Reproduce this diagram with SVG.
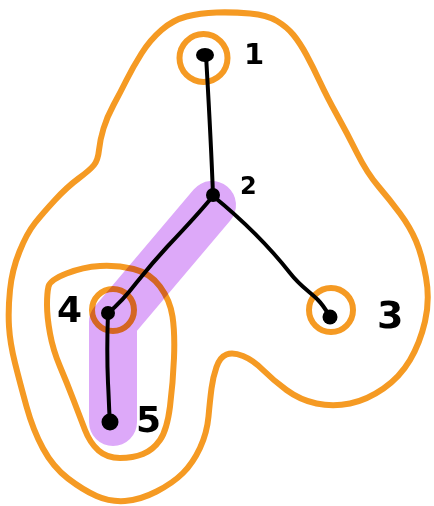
<svg xmlns="http://www.w3.org/2000/svg" width="434" height="506" viewBox="0 0 434 506">
  <style>
    .ring { fill: none; stroke: #F59A23; stroke-width: 6; stroke-linecap: round; stroke-linejoin: round; mix-blend-mode: multiply; }
    .edge { fill: none; stroke: #000; stroke-width: 4; stroke-linecap: round; stroke-linejoin: round; }
    .dot { fill: #000; }
    .lbl { font-family: "DejaVu Sans", sans-serif; font-weight: bold; fill: #000; }
    .path-hl { fill: none; stroke: #DDA9F9; stroke-width: 48; stroke-linecap: round; stroke-linejoin: round; }
  </style>
  <rect width="434" height="506" fill="#fff"/>

  <!-- highlighted path 2-4-5 -->
  <path class="path-hl" d="M212,205 L113,322 L113,422"/>

  <!-- outer cluster -->
  <path class="ring" d="M186.5,16.5 Q200,13 216.5,12.5 Q233,12 250,13.5 Q267,15 277,21 Q287,27 293.5,35 Q300,43 306.5,55 Q313,67 320,82 Q327,97 337,115 Q347,133 357,153 Q367,173 378.5,186.5 Q390,200 400,213.5 Q410,227 416,241 Q422,255 426,277.5 Q430,300 425,321.5 Q420,343 410,360 Q400,377 383.5,388.5 Q367,400 350,403.5 Q333,407 316.5,403.5 Q300,400 286.5,390 Q273,380 263,370 Q253,360 243,356 Q233,352 226.5,354.5 Q220,357 216.5,367 Q213,377 211.5,388.5 Q210,400 208.5,416.5 Q207,433 200,448 Q193,463 183,473 Q173,483 156.5,491.5 Q140,500 125,501 Q110,502 96.5,496 Q83,490 68,478.5 Q53,467 43,448.5 Q33,430 26.5,406.5 Q20,383 15,363 Q10,343 9,326.5 Q8,310 10,290 Q12,270 19.5,251.5 Q27,233 35,223 Q43,213 55,200 Q67,187 78.5,178.5 Q90,170 94,165 Q98,160 99,150 Q100,140 103.5,128.5 Q107,117 113.5,105 Q120,93 126.5,80 Q133,67 141.5,53.5 Q150,40 161.5,30 Q173,20 186.5,16.5 Z"/>

  <!-- inner cluster around 4 and 5 -->
  <path class="ring" d="M48.5,286.5 Q50,280 66.5,273.5 Q83,267 100,266 Q117,265 133.5,269 Q150,273 160,286.5 Q170,300 172.5,316.5 Q175,333 174,358 Q173,383 170,406.5 Q167,430 160,440 Q153,450 143,454 Q133,458 120,458 Q107,458 98.5,450.5 Q90,443 85,430 Q80,417 73.5,400 Q67,383 60,366.5 Q53,350 50,333.5 Q47,317 47,305 Q47,293 48.5,286.5 Z"/>

  <!-- connectors -->
  <g id="edges">
    <path class="edge" d="M206,55 C208,90 211,140 213,195"/>
    <path class="edge" d="M213,196 C240,218 268,245 290,273 C300,286 310,292 318,300 C324,306 327,312 330,317"/>
    <path class="edge" d="M213,196 C200,212 185,228 167,247 C155,260 145,272 137,282 C127,295 118,305 108,313"/>
    <path class="edge" d="M108,313 C107,340 107,360 108,383 C109,400 109,412 110,422"/>
  </g>

  <g id="n1">
    <circle class="ring" cx="203.5" cy="58" r="24"/>
    <ellipse class="dot" cx="205" cy="55" rx="9" ry="7"/>
    <text class="lbl" x="244" y="64" font-size="29">1</text>
  </g>
  <g id="n2">
    <circle class="dot" cx="213" cy="195" r="7"/>
    <text class="lbl" x="240" y="194" font-size="24">2</text>
  </g>
  <g id="n3">
    <circle class="ring" cx="331" cy="310" r="22"/>
    <circle class="dot" cx="330" cy="317" r="7.5"/>
    <text class="lbl" x="377" y="328" font-size="38">3</text>
  </g>
  <g id="n4">
    <circle class="ring" cx="113" cy="310" r="21"/>
    <circle class="dot" cx="108" cy="313" r="7"/>
    <text class="lbl" x="57" y="322" font-size="36">4</text>
  </g>
  <g id="n5">
    <circle class="dot" cx="110" cy="422" r="8.5"/>
    <text class="lbl" x="136" y="432" font-size="36">5</text>
  </g>
</svg>
